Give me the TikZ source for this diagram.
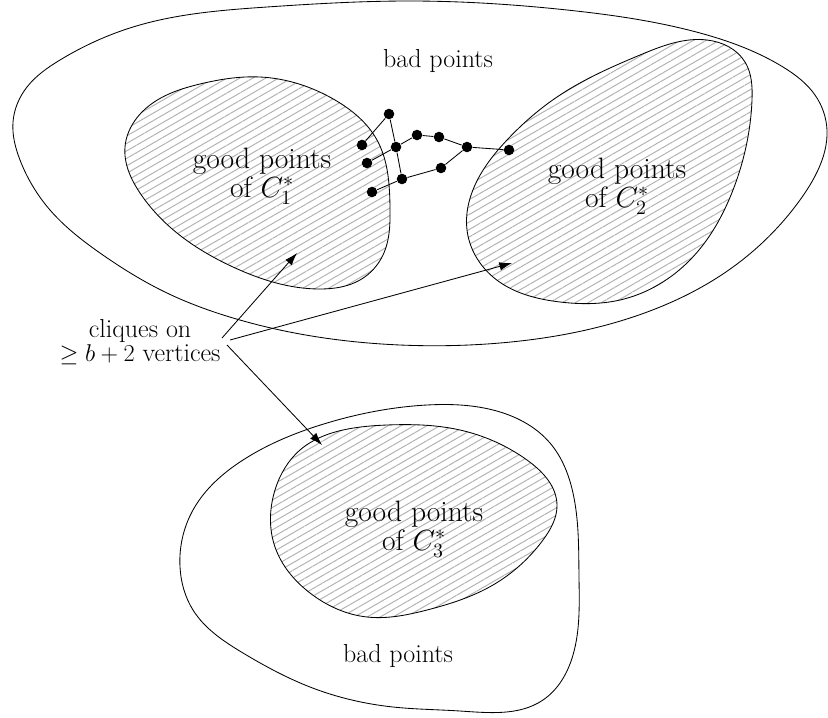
\documentclass[tikz,border=0pt]{standalone}
\usepackage{amsmath,amssymb}
\usetikzlibrary{arrows.meta,patterns.meta,hobby}

\begin{document}
\begin{tikzpicture}[x=0.025cm,y=-0.025cm,line width=0.6pt,use Hobby shortcut,
    dot/.style={circle,fill=black,inner sep=0pt,minimum size=7.5pt},
    hatched/.style={draw=black,pattern={Lines[angle=30,distance=4.6pt,line width=0.7pt]},pattern color=gray!60},
    goodtext/.style={align=center,inner sep=0pt,font=\fontsize{21}{20.5}\selectfont},
    badtext/.style={inner sep=0pt,font=\fontsize{18.5}{17.5}\selectfont},
    arr/.style={-{Latex[length=9pt,width=6pt]}}]
  \useasboundingbox (0,0) rectangle (828,717);
  % outer regions
  \draw[closed=true] (410,1) .. (567,10) .. (700,33) .. (783,67) .. (815,95) .. (827,130) .. (818,170) .. (800,200) .. (733,267) .. (633,317) .. (500,343) .. (400,345) .. (233,318) .. (167,293) .. (100,253) .. (50,210) .. (20,160) .. (13,122) .. (27,87) .. (60,60) .. (133,27) .. (267,7);
  \draw[closed=true] (427,405) .. (493,410) .. (550,443) .. (573,493) .. (579,577) .. (573,655) .. (543,700) .. (460,711) .. (393,707) .. (310,687) .. (243,653) .. (193,610) .. (180,567) .. (193,510) .. (243,460) .. (327,423);
  % good points
  \draw[hatched,closed=true] (260,77) .. (335,100) .. (377,140) .. (390,207) .. (383,255) .. (360,280) .. (320,289) .. (233,267) .. (177,233) .. (140,193) .. (125,147) .. (150,105) .. (200,84);
  \draw[hatched,closed=true] (707,40) .. (745,62) .. (752,100) .. (733,190) .. (690,260) .. (620,300) .. (560,302) .. (493,277) .. (467,230) .. (475,185) .. (507,140) .. (560,95) .. (640,55);
  \draw[hatched,closed=true] (387,425) .. (460,430) .. (527,460) .. (557,505) .. (543,540) .. (493,585) .. (427,610) .. (367,617) .. (310,593) .. (275,547) .. (275,490) .. (300,450) .. (343,430);
  % labels
  \node[badtext,anchor=base] (badtop) at (438,67) {bad points};
  \node[badtext,anchor=base] (badbot) at (398,662) {bad points};
  \node[goodtext] (good1) at (262,176) {good points\\of $C_1^*$};
  \node[goodtext] (good2) at (617,186) {good points\\of $C_2^*$};
  \node[goodtext] (good3) at (414,529) {good points\\of $C_3^*$};
  \node[badtext,align=center] (cliques) at (140,342) {cliques on\\$\geq b+2$ vertices};
  % arrows
  \coordinate (s1) at (222,338);
  \coordinate (s2) at (230,340);
  \coordinate (s3) at (227,345);
  \coordinate (t1) at (297,253);
  \coordinate (t2) at (512,263);
  \coordinate (t3) at (322,445);
  \draw[arr] (s1) -- (t1);
  \draw[arr] (s2) -- (t2);
  \draw[arr] (s3) -- (t3);
  % path between C1 and C2
  \node[dot] (a) at (389,114) {};
  \node[dot] (b) at (362,145) {};
  \node[dot] (c) at (396,147) {};
  \node[dot] (d) at (367,163) {};
  \node[dot] (e) at (417,135) {};
  \node[dot] (f) at (439,137) {};
  \node[dot] (g) at (467,147) {};
  \node[dot] (h) at (509,150) {};
  \node[dot] (i) at (441,168) {};
  \node[dot] (j) at (402,179) {};
  \node[dot] (k) at (372,192) {};
  \draw (b) -- (a) -- (c) -- (j) -- (k);
  \draw (d) -- (c) -- (e) -- (f) -- (g) -- (h);
  \draw (g) -- (i) -- (j);
\end{tikzpicture}
\end{document}
